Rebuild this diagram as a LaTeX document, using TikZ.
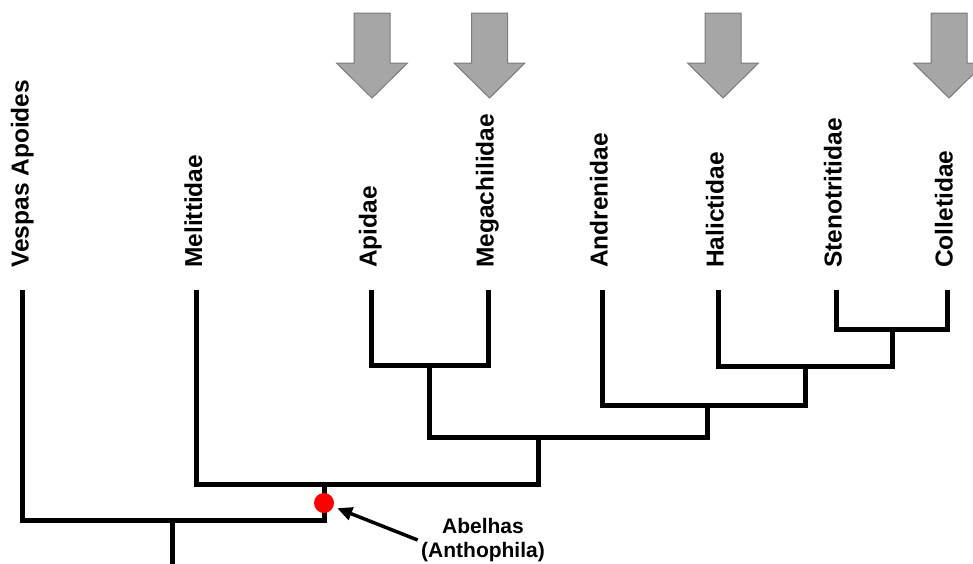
\documentclass[tikz,border=0pt]{standalone}
\usepackage{fontspec}
\setmainfont{Liberation Sans}
\usepackage{xcolor}
\definecolor{branchDark}{HTML}{000000}
\definecolor{arrowGray}{HTML}{A6A6A6}
\definecolor{arrowEdge}{HTML}{7A7A7A}
\definecolor{dotRed}{HTML}{FF0000}
\usepackage{tikz}
\usetikzlibrary{positioning,calc,arrows.meta}
\tikzset{
  taxonLabel/.style={
    rotate=90,
    anchor=mid west,
    inner sep=0pt,
    font=\fontsize{24.5}{28}\selectfont\bfseries
 },
  branchLine/.style={
    line width=5pt,
    color=branchDark,
    line join=miter
 },
  bigArrow/.style={
    fill=arrowGray,
    draw=arrowEdge,
    line width=1pt
 },
  cladeDot/.style={
    circle,
    fill=dotRed,
    minimum size=20pt,
    inner sep=0pt
 },
  cladeLabel/.style={
    align=center,
    font=\fontsize{21}{24}\selectfont\bfseries
 },
  pointerLine/.style={
    -{Triangle[length=15pt,width=13pt]},
    line width=3.5pt,
    color=branchDark,
    shorten >=4pt
 }
}

\begin{document}
\begin{tikzpicture}[x=1pt,y=-1pt]
            \clip (0,0) rectangle (973,563);

            % taxa
            \node[taxonLabel] (vespas) at (26,268) {Vespas Apoides};
            \node[taxonLabel] (melittidae) at (199.5,268) {Melittidae};
            \node[taxonLabel] (apidae) at (374,268) {Apidae};
            \node[taxonLabel] (megachilidae) at (491,268) {Megachilidae};
            \node[taxonLabel] (andrenidae) at (605,268) {Andrenidae};
            \node[taxonLabel] (halictidae) at (721,268) {Halictidae};
            \node[taxonLabel] (stenotritidae) at (839,268) {Stenotritidae};
            \node[taxonLabel] (colletidae) at (950,268) {Colletidae};

            % tips of the branches
            \coordinate (vespasTip) at (22.5,290);
            \coordinate (melittidaeTip) at (196.5,290);
            \coordinate (apidaeTip) at (371,290);
            \coordinate (megachilidaeTip) at (488,290);
            \coordinate (andrenidaeTip) at (602,290);
            \coordinate (halictidaeTip) at (718,290);
            \coordinate (stenotritidaeTip) at (836,290);
            \coordinate (colletidaeTip) at (947,290);

            % inner nodes
            \coordinate (apMeg) at (429.5,365);
            \coordinate (stenColl) at (892,329);
            \coordinate (halSC) at (805,366);
            \coordinate (andHal) at (707,405);
            \coordinate (longTongue) at (538,437);
            \coordinate (melRest) at (324,484);
            \coordinate (root) at (172,520);
            \coordinate (rootBase) at (172,570);

            \draw[branchLine] (apidaeTip) |- (apMeg) -| (megachilidaeTip);
            \draw[branchLine] (stenotritidaeTip) |- (stenColl) -| (colletidaeTip);
            \draw[branchLine] (halictidaeTip) |- (halSC) -| (stenColl);
            \draw[branchLine] (andrenidaeTip) |- (andHal) -| (halSC);
            \draw[branchLine] (apMeg) |- (longTongue) -| (andHal);
            \draw[branchLine] (melittidaeTip) |- (melRest) -| (longTongue);
            \draw[branchLine] (vespasTip) |- (root) -| (melRest);
            \draw[branchLine] (root) -- (rootBase);

            % big arrows over the families
            \foreach \ax in {372,489.5,723,949}
              \draw[bigArrow] (\ax-18,13) -- (\ax+18,13) -- (\ax+18,63) -- (\ax+35.5,63)
                -- (\ax,98) -- (\ax-35.5,63) -- (\ax-18,63) -- cycle;

            % bees
            \node[cladeDot] (anthophila) at (324,503) {};
            \node[cladeLabel] (abelhas) at (483,540) {Abelhas\\(Anthophila)};
            \draw[pointerLine] (abelhas.west) -- (anthophila);

        \end{tikzpicture}
\end{document}
